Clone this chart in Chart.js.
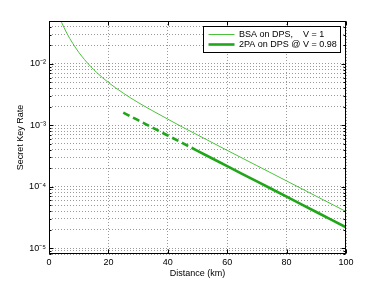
<!DOCTYPE html>
<html lang="en">
<head>
<meta charset="UTF-8">
<title>Secret Key Rate vs Distance</title>
<style>
  body { margin: 0; padding: 0; background: #fff; }
  .chart-box { width: 382px; height: 287px; }
</style>
</head>
<body>
<div class="chart-box"><canvas id="rate"></canvas></div>

<script src="https://cdn.jsdelivr.net/npm/chart.js"></script>
<script>
// thin curve: BSA on DPS, V = 1
const bsaKm   = [3.5, 5, 6, 7, 8, 10, 12, 14, 16, 18, 20, 25, 30, 35, 40, 45, 50, 60, 70, 80, 90, 100];
const bsaRate = [5.7e-2, 3.95e-2, 3.17e-2, 2.59e-2, 2.16e-2, 1.55e-2, 1.17e-2, 9.1e-3, 7.3e-3, 5.97e-3, 4.98e-3,
                 3.34e-3, 2.35e-3, 1.71e-3, 1.26e-3, 9.3e-4, 6.97e-4, 3.9e-4, 2.2e-4, 1.24e-4, 6.98e-5, 3.94e-5];
// thick curve: 2PA on DPS @ V = 0.98 (dashed below dashEndKm)
const tpaKm   = [25, 30, 35, 40, 45, 48, 50, 55, 60, 65, 70, 75, 80, 85, 90, 95, 100];
const tpaRate = [1.61e-3, 1.21e-3, 9.08e-4, 6.81e-4, 5.12e-4, 4.31e-4, 3.84e-4, 2.88e-4, 2.16e-4, 1.62e-4,
                 1.22e-4, 9.16e-5, 6.87e-5, 5.16e-5, 3.87e-5, 2.91e-5, 2.18e-5];
const dashEndKm = 48;

const seriesNames = ['BSA on DPS,    V = 1', '2PA on DPS @ V = 0.98'];
const xRange = [0, 100];
const xStep = 20;
const yRange = [8e-6, 5e-2];
const yExponents = [-6, -5, -4, -3, -2];
const yMultipliers = [1, 2, 3, 4, 5, 6, 7, 8, 9];

const FONT = '"Liberation Sans", Arial, Helvetica, sans-serif';
Chart.defaults.font.family = FONT;
Chart.defaults.font.size = 9;
Chart.defaults.color = '#000';

const supMap = { '-': '\u207B', '0': '\u2070', '1': '\u00B9', '2': '\u00B2', '3': '\u00B3', '4': '\u2074',
                 '5': '\u2075', '6': '\u2076', '7': '\u2077', '8': '\u2078', '9': '\u2079' };
function powLabel(e) {
    return '10' + String(e).split('').map(c => supMap[c]).join('');
}

// all 1..9 x 10^n ticks inside the range (used for minor grid)
const yTickList = [];
yExponents.forEach(e => {
    yMultipliers.forEach(m => {
        const v = parseFloat((m * Math.pow(10, e)).toPrecision(3));
        if (v >= yRange[0] - 1e-12 && v <= yRange[1] + 1e-12) yTickList.push({ value: v, m: m, e: e });
    });
});

// box + inward tick marks, MATLAB style
const axesBox = {
    id: 'axesBox',
    afterDatasetsDraw(chart) {
        const { ctx, chartArea: a, scales } = chart;
        const L = Math.round(a.left) + 0.5, R = Math.round(a.right) - 0.5;
        const T = Math.round(a.top) + 0.5, B = Math.round(a.bottom) - 0.5;
        ctx.save();
        ctx.strokeStyle = '#000';
        ctx.lineWidth = 1;
        ctx.beginPath();
        scales.y.ticks.forEach(t => {
            const y = Math.round(scales.y.getPixelForValue(t.value)) + 0.5;
            const len = t.m === 1 ? 4 : 2;
            ctx.moveTo(L, y); ctx.lineTo(L + len, y);
            ctx.moveTo(R, y); ctx.lineTo(R - len, y);
        });
        scales.x.ticks.forEach(t => {
            const x = Math.round(scales.x.getPixelForValue(t.value)) + 0.5;
            ctx.moveTo(x, B); ctx.lineTo(x, B - 4);
            ctx.moveTo(x, T); ctx.lineTo(x, T + 4);
        });
        ctx.stroke();
        ctx.strokeRect(L, T, R - L, B - T);
        ctx.restore();
    }
};

// legend inside the top-right corner
const cornerLegend = {
    id: 'cornerLegend',
    afterDatasetsDraw(chart) {
        const { ctx, chartArea: a } = chart;
        const ds = chart.data.datasets;
        ctx.save();
        ctx.font = '9px ' + FONT;
        const textW = Math.max(...ds.map(d => ctx.measureText(d.label).width));
        const sample = 26, padL = 5, gap = 4.5, padR = 4;
        const w = Math.round(padL + sample + gap + textW + padR);
        const h = 26;
        const x0 = Math.round(a.right - 6.5 - w) + 0.5;
        const y0 = Math.round(a.top + 5) + 0.5;
        ctx.fillStyle = '#fff';
        ctx.fillRect(x0, y0, w, h);
        ctx.strokeStyle = '#000';
        ctx.lineWidth = 1;
        ctx.strokeRect(x0, y0, w, h);
        ds.forEach((d, i) => {
            const cy = y0 + 8 + i * 10;
            ctx.beginPath();
            ctx.strokeStyle = d.borderColor;
            ctx.lineWidth = d.borderWidth;
            ctx.moveTo(x0 + padL, cy);
            ctx.lineTo(x0 + padL + sample, cy);
            ctx.stroke();
            ctx.fillStyle = '#000';
            ctx.textBaseline = 'middle';
            ctx.fillText(d.label, x0 + padL + sample + gap, cy + 0.5);
        });
        ctx.restore();
    }
};

new Chart(document.getElementById('rate'), {
    type: 'line',
    data: {
        datasets: [
            {
                label: seriesNames[0],
                data: bsaKm.map((x, i) => ({ x: x, y: bsaRate[i] })),
                borderColor: '#4cc23c',
                borderWidth: 1,
                pointRadius: 0,
                cubicInterpolationMode: 'monotone'
            },
            {
                label: seriesNames[1],
                data: tpaKm.map((x, i) => ({ x: x, y: tpaRate[i] })),
                borderColor: '#1fa619',
                borderWidth: 2.6,
                pointRadius: 0,
                segment: {
                    borderDash: c => c.p1.parsed.x <= dashEndKm ? [7, 4] : undefined
                }
            }
        ]
    },
    options: {
        responsive: true,
        maintainAspectRatio: false,
        animation: false,
        layout: { padding: { top: 21, right: 36, left: 0, bottom: 0 } },
        plugins: { legend: { display: false }, tooltip: { enabled: false } },
        scales: {
            x: {
                type: 'linear',
                min: xRange[0],
                max: xRange[1],
                afterFit: s => { s.height = 33; },
                ticks: { stepSize: xStep, padding: 3, maxRotation: 0 },
                grid: { color: '#9a9a9a', drawTicks: false },
                border: { display: false, dash: [1, 2] },
                title: { display: true, text: 'Distance (km)', padding: { top: 0, bottom: 8 } }
            },
            y: {
                type: 'logarithmic',
                min: yRange[0],
                max: yRange[1],
                afterFit: s => { s.width = 49; },
                afterBuildTicks: s => { s.ticks = yTickList.map(t => ({ value: t.value, m: t.m, major: t.m === 1 })); },
                ticks: {
                    autoSkip: false,
                    padding: 3,
                    callback: function (v) {
                        const t = yTickList.find(k => Math.abs(k.value - v) < v * 1e-6);
                        return t && t.m === 1 ? powLabel(t.e) : '';
                    }
                },
                grid: { color: '#9a9a9a', drawTicks: false },
                border: { display: false, dash: [1, 2] },
                title: { display: true, text: 'Secret Key Rate', padding: { top: 15, bottom: 0 } }
            }
        }
    },
    plugins: [axesBox, cornerLegend]
});
</script>
</body>
</html>
